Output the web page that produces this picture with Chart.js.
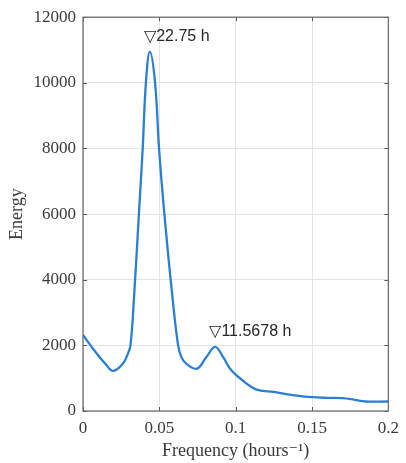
<!DOCTYPE html>
<html>
<head>
<meta charset="utf-8">
<script src="https://cdn.jsdelivr.net/npm/chart.js@4/dist/chart.umd.min.js"></script>
<style>
html,body{margin:0;padding:0;background:#fff;}
#wrap{width:406px;height:463px;}
</style>
</head>
<body>
<div id="wrap"><canvas id="c" width="406" height="463"></canvas></div>
<script>
// Data
const frequency = [0, 0.003, 0.009, 0.015, 0.0197, 0.0262, 0.0294, 0.0311, 0.0333, 0.0366, 0.0391, 0.0412, 0.0438, 0.0472, 0.0498, 0.0533, 0.0588, 0.0623, 0.0644, 0.0674, 0.0745, 0.0805, 0.0865, 0.0917, 0.097, 0.1057, 0.1132, 0.125, 0.14, 0.15, 0.16, 0.17, 0.178, 0.185, 0.2];
const energy    = [2330, 2120, 1750, 1420, 1220, 1447, 1750, 2000, 3370, 6000, 8000, 10000, 10950, 10000, 8000, 6000, 3370, 2000, 1650, 1450, 1290, 1620, 1955, 1650, 1250, 890, 660, 580, 470, 420, 400, 390, 340, 290, 290];

const peakFreqs  = [0.0438, 0.0865];
const peakEnergy = [10950, 1955];
const peakLabels = ['\u25BD22.75 h', '\u25BD11.5678 h'];

const xTicks = [0, 0.05, 0.1, 0.15, 0.2];
const xTickLabels = ['0', '0.05', '0.1', '0.15', '0.2'];
const yTicks = [0, 2000, 4000, 6000, 8000, 10000, 12000];
const yTickLabels = ['0', '2000', '4000', '6000', '8000', '10000', '12000'];

const points = frequency.map((f, i) => ({x: f, y: energy[i]}));

const frameAndLabels = {
  id: 'frameAndLabels',
  afterDatasetsDraw(chart) {
    const {ctx, chartArea: a, scales: {x, y}} = chart;
    ctx.save();
    ctx.strokeStyle = '#555';
    ctx.lineWidth = 1;
    ctx.beginPath();
    xTicks.forEach(v => {
      const px = Math.round(x.getPixelForValue(v)) + 0.5;
      ctx.moveTo(px, a.bottom); ctx.lineTo(px, a.bottom - 4);
      ctx.moveTo(px, a.top); ctx.lineTo(px, a.top + 4);
    });
    yTicks.forEach(v => {
      const py = Math.round(y.getPixelForValue(v)) + 0.5;
      ctx.moveTo(a.left, py); ctx.lineTo(a.left + 4, py);
      ctx.moveTo(a.right, py); ctx.lineTo(a.right - 4, py);
    });
    ctx.stroke();
    ctx.strokeStyle = '#6e6e6e';
    ctx.lineWidth = 1.3;
    ctx.strokeRect(a.left, a.top, a.right - a.left, a.bottom - a.top);
    ctx.fillStyle = '#262626';
    ctx.font = '16px "Liberation Sans", "DejaVu Sans", sans-serif';
    ctx.textBaseline = 'middle';
    ctx.textAlign = 'left';
    peakLabels.forEach((t, i) => {
      const px = x.getPixelForValue(peakFreqs[i]);
      const py = y.getPixelForValue(peakEnergy[i]);
      ctx.fillText(t, px - 6, py - 15);
    });
    ctx.restore();
  }
};

new Chart(document.getElementById('c'), {
  type: 'line',
  data: {
    datasets: [{
      data: points,
      borderColor: '#2a7fd4',
      borderWidth: 2.3,
      pointRadius: 0,
      tension: 0.4,
      fill: false
    }]
  },
  options: {
    responsive: false,
    animation: false,
    events: [],
    layout: {padding: {top: 15, right: 13, bottom: 0, left: 0}},
    plugins: {legend: {display: false}, tooltip: {enabled: false}},
    scales: {
      x: {
        type: 'linear',
        min: 0, max: 0.2,
        afterBuildTicks: s => { s.ticks = xTicks.map(v => ({value: v})); },
        afterFit: s => { s.height = 52; },
        border: {display: false},
        grid: {color: '#e4e4e4', lineWidth: 1, drawTicks: false},
        ticks: {
          padding: 7,
          color: '#3a3a3a',
          font: {family: '"Liberation Serif", "DejaVu Serif", serif', size: 17},
          callback: (v, i) => xTickLabels[i],
          maxRotation: 0
        },
        title: {
          display: true,
          text: 'Frequency (hours\u207B\u00B9)',
          color: '#3a3a3a',
          font: {family: '"Liberation Serif", "DejaVu Serif", serif', size: 18},
          padding: {top: 0, bottom: 1}
        }
      },
      y: {
        type: 'linear',
        min: 0, max: 12000,
        afterBuildTicks: s => { s.ticks = yTicks.map(v => ({value: v})); },
        afterFit: s => { s.width = 83; },
        border: {display: false},
        grid: {color: '#e4e4e4', lineWidth: 1, drawTicks: false},
        ticks: {
          padding: 7,
          color: '#3a3a3a',
          font: {family: '"Liberation Serif", "DejaVu Serif", serif', size: 17},
          callback: (v, i) => yTickLabels[i]
        },
        title: {
          display: true,
          text: 'Energy',
          color: '#3a3a3a',
          font: {family: '"Liberation Serif", "DejaVu Serif", serif', size: 18},
          padding: {top: 6, bottom: 0}
        }
      }
    }
  },
  plugins: [frameAndLabels]
});
</script>
</body>
</html>
